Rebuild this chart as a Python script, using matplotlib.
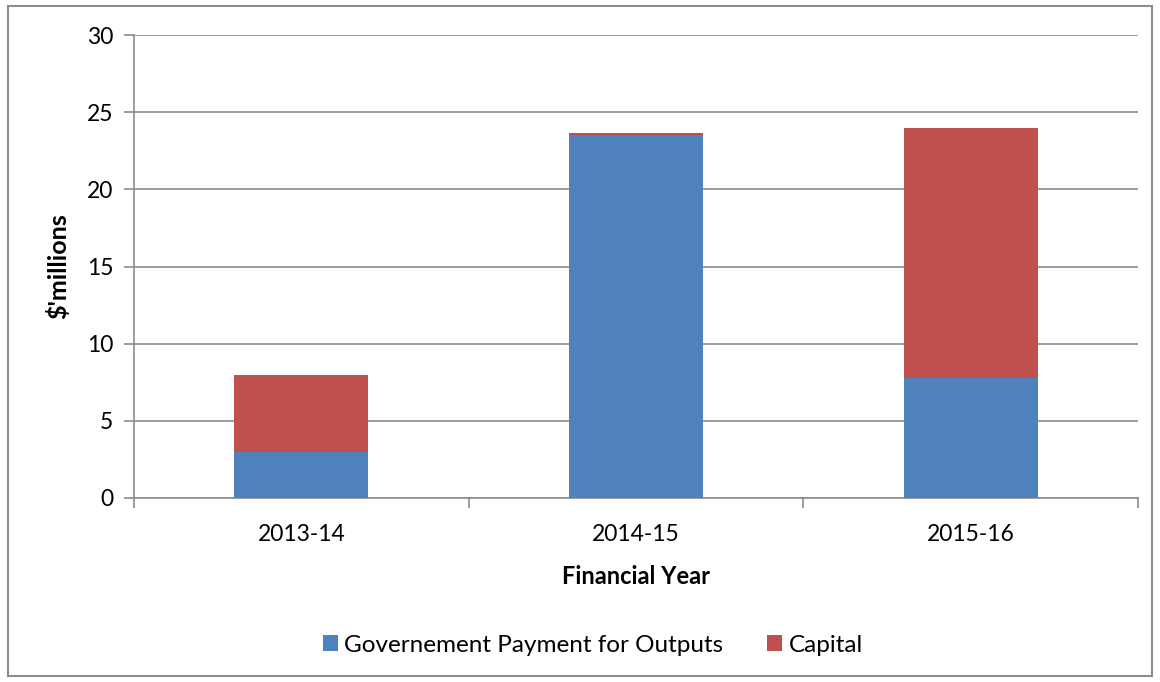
import matplotlib.pyplot as plt
import numpy as np
from matplotlib.patches import Rectangle

plt.rcParams['font.family'] = ['Lato', 'DejaVu Sans']

years = ['2013-14', '2014-15', '2015-16']
govt_payment = [3.0, 23.5, 7.8]
capital = [5.0, 0.15, 16.2]

blue = '#4F81BD'
red = '#C0504D'
grey = '#8C8C8C'

fig = plt.figure(figsize=(11.6, 6.82), dpi=100)
ax = fig.add_axes([134 / 1160, 1 - 498 / 682, (1138 - 134) / 1160, (498 - 35) / 682])

# outer chart border
fig.patches.append(Rectangle((8 / 1160, 6 / 682), 1 - 16 / 1160, 1 - 12 / 682,
                             transform=fig.transFigure, fill=False,
                             edgecolor=grey, linewidth=1.5))

x = np.arange(len(years))
ax.bar(x, govt_payment, width=0.4, color=blue, label='Governement Payment for Outputs', zorder=3)
ax.bar(x, capital, width=0.4, bottom=govt_payment, color=red, label='Capital', zorder=3)

ax.set_xlim(-0.5, 2.5)
ax.set_ylim(0, 30)
ax.set_yticks(range(0, 31, 5))
ax.yaxis.grid(True, color=grey, linewidth=1.2, zorder=0)
ax.set_xticks(x)
ax.set_xticklabels(years, fontsize=16.5)
ax.tick_params(axis='x', length=0, pad=19)
ax.set_xticks([-0.5, 0.5, 1.5, 2.5], minor=True)
ax.tick_params(axis='x', which='minor', length=7, color=grey, width=1.2)
ax.tick_params(axis='y', labelsize=16.5, length=7, color=grey, width=1.2, pad=8)

for s in ['top', 'right']:
    ax.spines[s].set_visible(False)
ax.spines['left'].set_color(grey)
ax.spines['left'].set_linewidth(1.2)
ax.spines['bottom'].set_color(grey)
ax.spines['bottom'].set_linewidth(1.2)

ax.set_xlabel('Financial Year', fontsize=17, fontweight='bold', labelpad=14)
ax.set_ylabel("$'millions", fontsize=18, fontweight='bold', labelpad=12)

fig.legend(loc='center', bbox_to_anchor=(593 / 1160, 1 - 645 / 682), ncol=2, frameon=False,
           fontsize=17.5, handlelength=0.62, handleheight=0.62, columnspacing=1.8,
           handletextpad=0.25)

fig.savefig('out.png', dpi=100)
